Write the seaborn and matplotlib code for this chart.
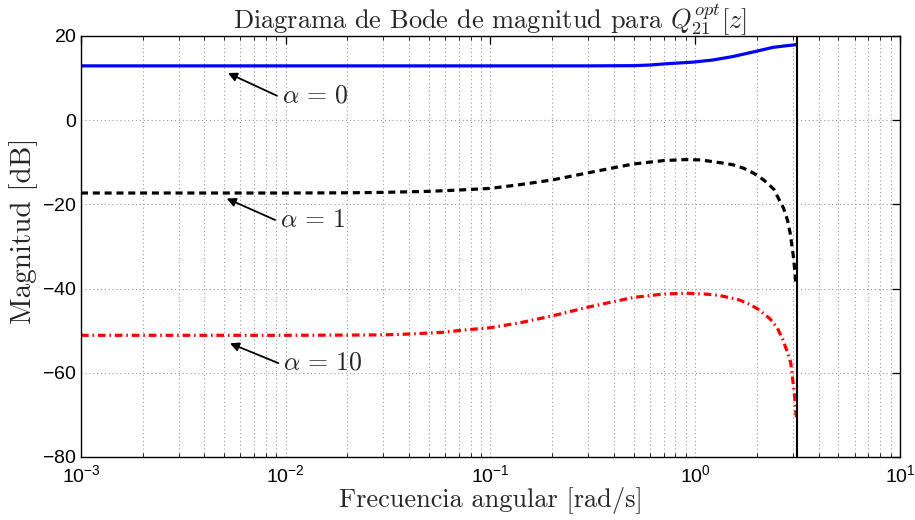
import numpy as np
import pandas as pd
import matplotlib
matplotlib.use("Agg")
import matplotlib.pyplot as plt
import seaborn as sns
from matplotlib.ticker import LogLocator, NullFormatter, FixedLocator

# Frequency response of Q21opt for three weights alpha (rad/s, dB)
freq_a0 = [0.001, 0.01, 0.1, 0.3, 0.5, 0.6, 0.72, 0.98, 1.22, 1.52, 2.0, 2.4, 2.8, 3.07, 3.12]
mag_a0 = [12.9, 12.9, 12.9, 12.9, 12.95, 13.1, 13.4, 13.8, 14.3, 15.1, 16.4, 17.3, 17.7, 17.9, 18.0]

freq_a1 = [0.001, 0.003, 0.01, 0.02, 0.03, 0.05, 0.07, 0.1, 0.14, 0.2, 0.3, 0.4, 0.5, 0.7,
           0.9, 1.07, 1.22, 1.37, 1.53, 1.72, 1.93, 2.16, 2.42, 2.55, 2.70, 2.82, 2.91,
           2.97, 3.03, 3.07, 3.10, 3.12]
mag_a1 = [-17.3, -17.3, -17.3, -17.25, -17.15, -16.9, -16.6, -16.2, -15.3, -14.2, -12.5, -11.3,
          -10.4, -9.6, -9.35, -9.45, -9.86, -10.2, -10.6, -11.4, -12.6, -14.2, -16.4, -18.6,
          -20.9, -23.7, -26.9, -30.0, -33.2, -36.4, -38.7, -39.4]

freq_a10 = [0.001, 0.003, 0.01, 0.02, 0.03, 0.04, 0.058, 0.076, 0.1, 0.14, 0.2, 0.3, 0.4, 0.5,
            0.7, 0.9, 1.12, 1.3, 1.45, 1.64, 1.84, 2.06, 2.32, 2.52, 2.67, 2.82, 2.93, 2.98,
            3.03, 3.07, 3.10, 3.12]
mag_a10 = [-51.1, -51.1, -51.1, -51.05, -51.0, -50.8, -50.4, -49.8, -49.3, -48.1, -46.5, -44.4,
           -43.1, -42.1, -41.3, -41.1, -41.3, -41.6, -42.1, -42.7, -43.7, -45.1, -47.2, -49.4,
           -52.0, -55.1, -57.7, -60.9, -63.7, -66.6, -69.6, -70.5]

alpha_labels = [r"$\alpha\,=\,0$", r"$\alpha\,=\,1$", r"$\alpha\,=\,10$"]
nyquist = np.pi

sns.set_theme(style="white")
plt.rcParams["font.family"] = ["Liberation Sans", "DejaVu Sans"]
plt.rcParams["axes.unicode_minus"] = True
plt.rcParams["axes.formatter.use_mathtext"] = True

serif = dict(fontfamily="cmr10", math_fontfamily="cm")

fig = plt.figure(figsize=(9.15, 5.2), dpi=100)
ax = fig.add_axes([0.0885, 0.1212, 0.8951, 0.8096])

df0 = pd.DataFrame({"w": freq_a0, "dB": mag_a0})
df1 = pd.DataFrame({"w": freq_a1, "dB": mag_a1})
df10 = pd.DataFrame({"w": freq_a10, "dB": mag_a10})

sns.lineplot(data=df0, x="w", y="dB", ax=ax, color="#0000ff", linewidth=2.3, estimator=None)
sns.lineplot(data=df1, x="w", y="dB", ax=ax, color="black", linewidth=2.3, estimator=None,
             dashes=False, linestyle=(0, (2.2, 1.5)))
sns.lineplot(data=df10, x="w", y="dB", ax=ax, color="#ff0000", linewidth=2.3, estimator=None,
             dashes=False, linestyle=(0, (2.4, 1.2, 0.5, 1.2)))

ax.axvline(nyquist, color="black", linewidth=1.5)

ax.set_xscale("log")
ax.set_xlim(1e-3, 10)
ax.set_ylim(-80, 20)
ax.yaxis.set_major_locator(FixedLocator([-80, -60, -40, -20, 0, 20]))
ax.xaxis.set_major_locator(LogLocator(base=10, numticks=10))
ax.xaxis.set_minor_locator(LogLocator(base=10, subs=np.arange(2, 10), numticks=50))
ax.xaxis.set_minor_formatter(NullFormatter())

ax.grid(True, which="major", axis="both", color="#9a9a9a", linestyle=(0, (1, 2.5)), linewidth=0.8)
ax.grid(True, which="minor", axis="x", color="#9a9a9a", linestyle=(0, (1, 2.5)), linewidth=0.8)

ax.tick_params(which="major", direction="in", length=6, width=0.9, top=True, right=True,
               labelsize=14, colors="black")
ax.tick_params(axis="x", which="major", pad=5)
ax.tick_params(axis="y", which="major", pad=3)
ax.tick_params(which="minor", direction="in", length=3, width=0.7, top=True, right=False,
               bottom=True)
for s in ax.spines.values():
    s.set_color("black")
    s.set_linewidth(1.0)

ax.set_title(r"Diagrama de Bode de magnitud para $Q_{21}^{opt}[z]$", fontsize=19, pad=5, **serif)
ax.set_xlabel("Frecuencia angular [rad/s]", fontsize=19, labelpad=1, **serif)
ax.set_ylabel("Magnitud [dB]", fontsize=21, **serif)
ax.yaxis.set_label_coords(-0.052, 0.537)

# arrows pointing at each curve
tips = [(0.00522, 11.2), (0.00515, -18.6), (0.00534, -53.0)]
tails = [(0.00906, 5.8), (0.00887, -23.7), (0.0092, -57.7)]
for lab, tip, tail in zip(alpha_labels, tips, tails):
    ax.annotate("", xy=tip, xytext=tail,
                arrowprops=dict(arrowstyle="-|>", color="black", lw=1.3,
                                mutation_scale=13, shrinkA=0, shrinkB=0))
    ax.text(tail[0] * 1.06, tail[1], lab, fontsize=18.5, va="center", ha="left", **serif)

fig.savefig("out.png", dpi=100)
